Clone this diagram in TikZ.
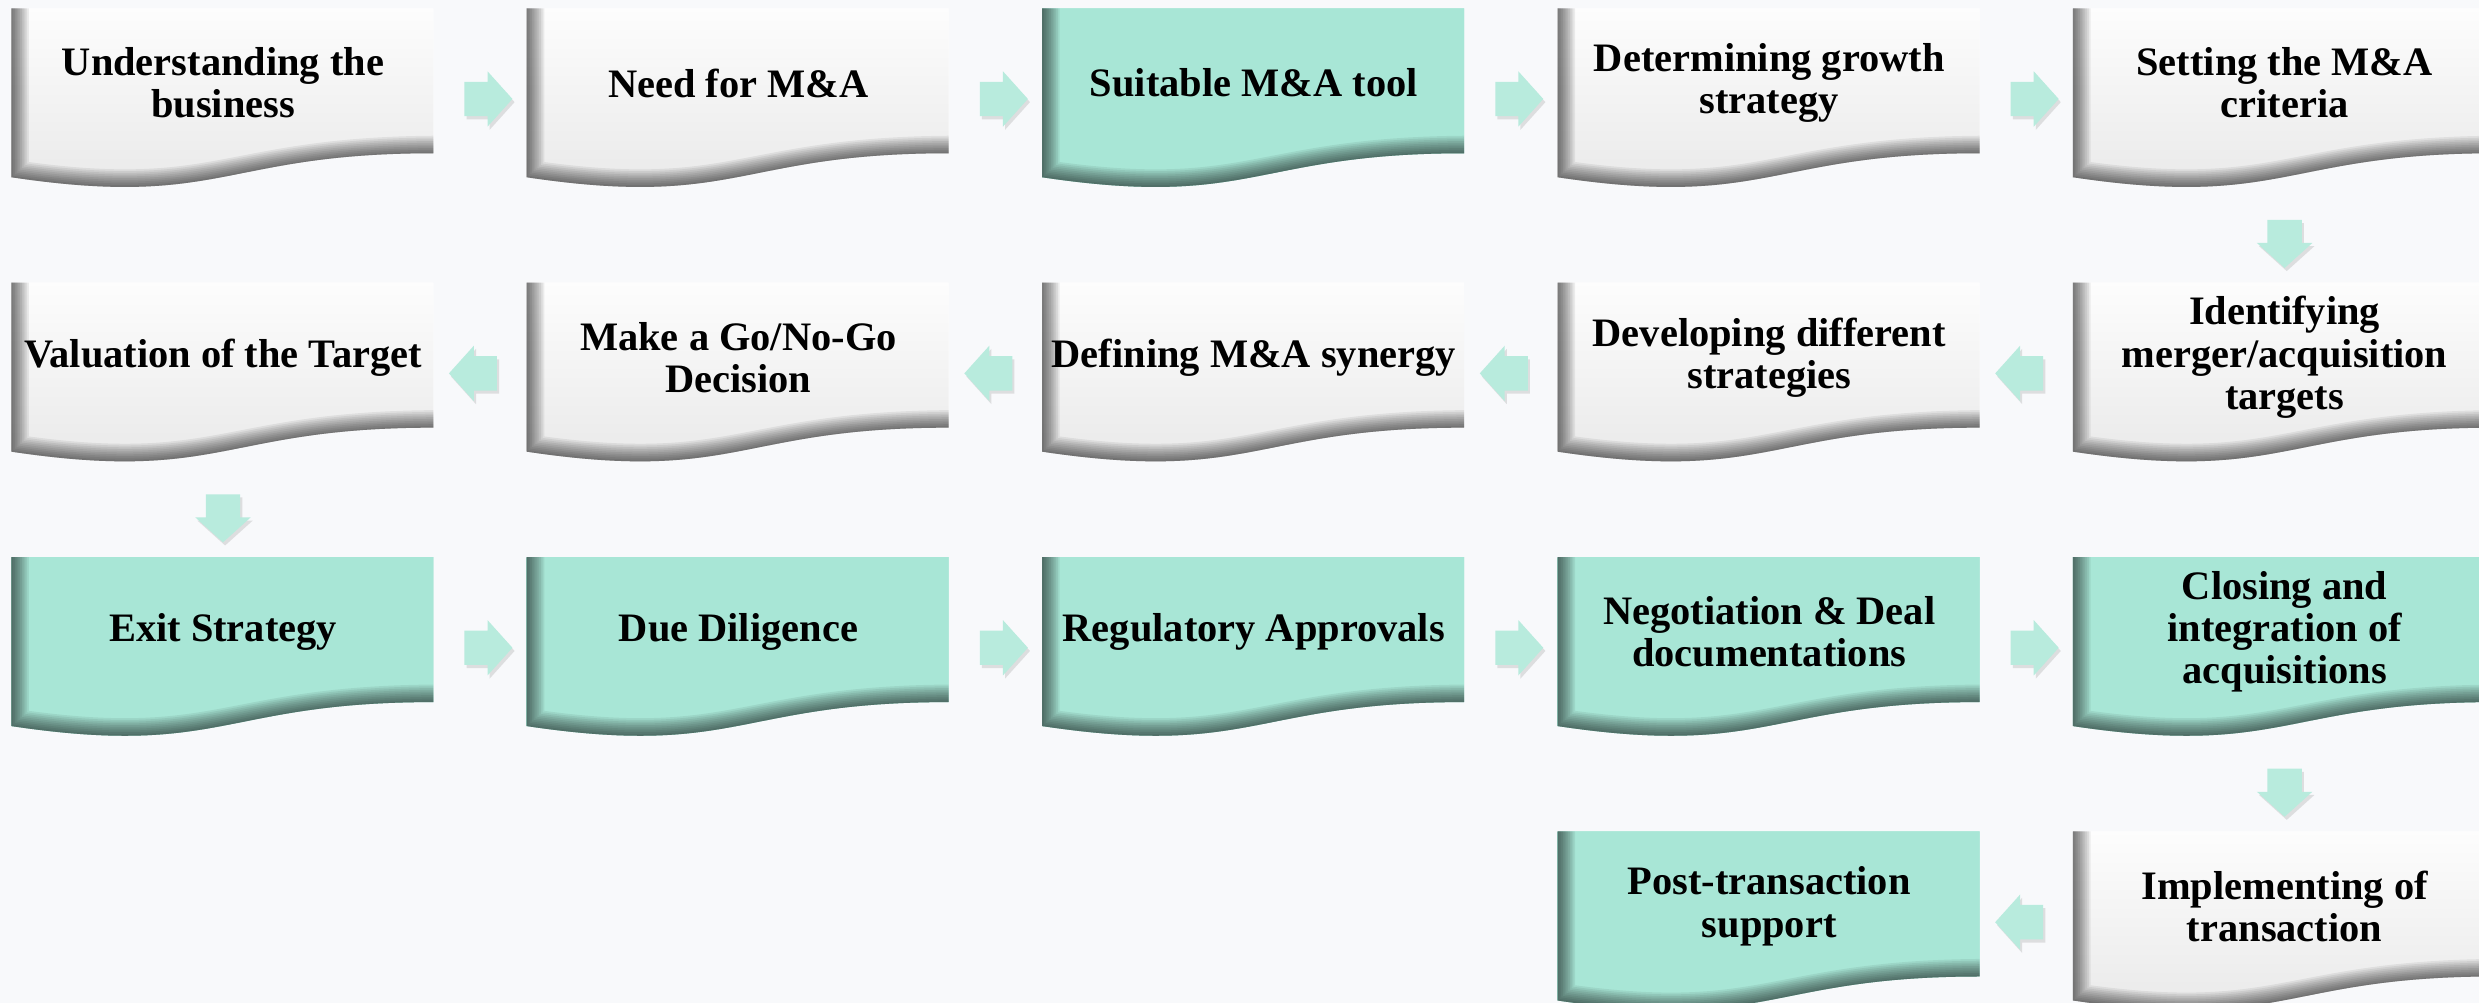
\documentclass[tikz,border=0pt]{standalone}
\usepackage{fontspec}
\setmainfont{Liberation Serif}
\usetikzlibrary{shapes.arrows,shadows,positioning,calc,backgrounds}

\definecolor{mintbox}{HTML}{A8E6D6}
\definecolor{mintarrow}{HTML}{B8EBDD}
\definecolor{pagebg}{HTML}{F8F9FB}
\definecolor{cardgray}{HTML}{E6E6E6}

% wave shaped card behind a named stage node
\newcommand{\wavecard}[3]{
  \begin{scope}[shift={(#1.north west)}]
    \fill[#2] (0,0) -- (4.22,0) -- (4.22,-1.45) .. controls (2.11,-1.45) and (2.11,-2.005) .. (0,-1.69) -- cycle;
    \begin{scope}
      \clip (0,0) -- (4.22,0) -- (4.22,-1.45) .. controls (2.11,-1.45) and (2.11,-2.005) .. (0,-1.69) -- cycle;
      \shade[top color=#2, bottom color=#3] (-0.2,0.2) rectangle (4.5,-2.1);
      % inner shadow on left and bottom edge
      \foreach \w in {10,9,...,1}
        \draw[line width=\w pt, black, opacity=0.065] (0,0.1) -- (0,-1.69) .. controls (2.11,-2.005) and (2.11,-1.45) .. (4.32,-1.45);
    \end{scope}
  \end{scope}
}

\begin{document}
\begin{tikzpicture}[
    % Styles
    stage/.style={
        rectangle, minimum width=4.22cm, minimum height=1.48cm,
        inner sep=0pt, align=center,
        font={\fontsize{11.5}{12}\selectfont\bfseries}
    },
    flow/.style={
        single arrow, draw=none, fill=mintarrow,
        minimum height=0.48cm, inner xsep=0pt, inner ysep=0.165cm,
        single arrow head extend=0.105cm, single arrow tip angle=96,
        yshift=-0.16cm,
        drop shadow={shadow xshift=0.6pt, shadow yshift=-0.9pt, opacity=0.22}
    },
    flowleft/.style={flow, shape border rotate=180},
    flowdown/.style={flow, shape border rotate=270, inner xsep=0.165cm, inner ysep=0pt}
]

\useasboundingbox (0,0) rectangle (24.79,10.03);

% Row 1
\node[stage] (understand) at (2.23,9.20) {Understanding the\\business};
\node[stage, right=0.92cm of understand] (need) {Need for M\&A};
\node[stage, right=0.92cm of need] (suitable) {Suitable M\&A tool};
\node[stage, right=0.92cm of suitable] (growth) {Determining growth\\strategy};
\node[stage, right=0.92cm of growth] (criteria) {Setting the M\&A\\criteria};

% Row 2
\node[stage, below=1.25cm of criteria] (identify) {Identifying\\merger/acquisition\\targets};
\node[stage, left=0.92cm of identify] (develop) {Developing different\\strategies};
\node[stage, left=0.92cm of develop] (synergy) {Defining M\&A synergy};
\node[stage, left=0.92cm of synergy] (gonogo) {Make a Go/No-Go\\Decision};
\node[stage, left=0.92cm of gonogo] (valuation) {Valuation of the Target};

% Row 3
\node[stage, below=1.25cm of valuation] (exit) {Exit Strategy};
\node[stage, right=0.92cm of exit] (diligence) {Due Diligence};
\node[stage, right=0.92cm of diligence] (regulatory) {Regulatory Approvals};
\node[stage, right=0.92cm of regulatory] (negotiation) {Negotiation \& Deal\\documentations};
\node[stage, right=0.92cm of negotiation] (closing) {Closing and\\integration of\\acquisitions};

% Row 4
\node[stage, below=1.25cm of closing] (implement) {Implementing of\\transaction};
\node[stage, left=0.92cm of implement] (posttrans) {Post-transaction\\support};

% Cards
\begin{pgfonlayer}{background}
  \fill[pagebg] (0,0) rectangle (24.79,10.03);
  \foreach \n/\c/\b in {understand/white/cardgray, need/white/cardgray,
      suitable/mintbox/mintbox, growth/white/cardgray, criteria/white/cardgray,
      identify/white/cardgray, develop/white/cardgray, synergy/white/cardgray,
      gonogo/white/cardgray, valuation/white/cardgray, exit/mintbox/mintbox,
      diligence/mintbox/mintbox, regulatory/mintbox/mintbox,
      negotiation/mintbox/mintbox, closing/mintbox/mintbox,
      implement/white/cardgray, posttrans/mintbox/mintbox}
    {\wavecard{\n}{\c}{\b}}
\end{pgfonlayer}

% Arrows
\node[flow] (a1) at ($(understand.east)!0.5!(need.west)$) {};
\node[flow] (a2) at ($(need.east)!0.5!(suitable.west)$) {};
\node[flow] (a3) at ($(suitable.east)!0.5!(growth.west)$) {};
\node[flow] (a4) at ($(growth.east)!0.5!(criteria.west)$) {};
\node[flowdown] (a5) at ($(criteria.south)!0.5!(identify.north)$) {};
\node[flowleft] (a6) at ($(identify.west)!0.5!(develop.east)$) {};
\node[flowleft] (a7) at ($(develop.west)!0.5!(synergy.east)$) {};
\node[flowleft] (a8) at ($(synergy.west)!0.5!(gonogo.east)$) {};
\node[flowleft] (a9) at ($(gonogo.west)!0.5!(valuation.east)$) {};
\node[flowdown] (a10) at ($(valuation.south)!0.5!(exit.north)$) {};
\node[flow] (a11) at ($(exit.east)!0.5!(diligence.west)$) {};
\node[flow] (a12) at ($(diligence.east)!0.5!(regulatory.west)$) {};
\node[flow] (a13) at ($(regulatory.east)!0.5!(negotiation.west)$) {};
\node[flow] (a14) at ($(negotiation.east)!0.5!(closing.west)$) {};
\node[flowdown] (a15) at ($(closing.south)!0.5!(implement.north)$) {};
\node[flowleft] (a16) at ($(implement.west)!0.5!(posttrans.east)$) {};

\end{tikzpicture}
\end{document}
